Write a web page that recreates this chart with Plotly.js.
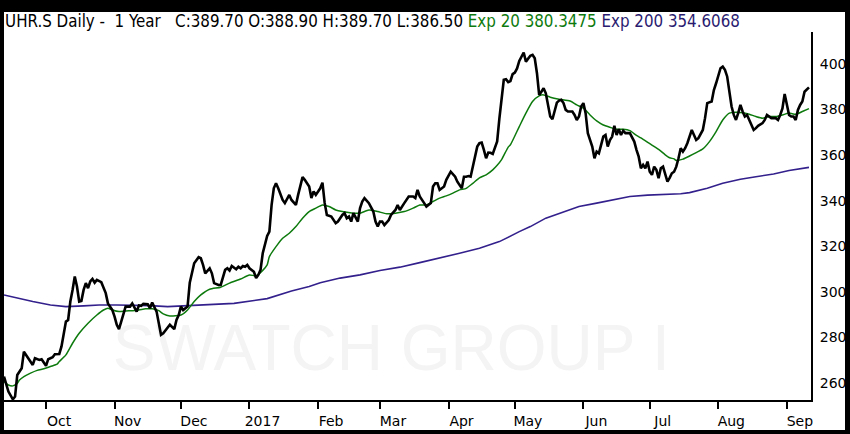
<!DOCTYPE html>
<html><head><meta charset="utf-8">
<script src="https://cdn.plot.ly/plotly-3.0.1.min.js"></script>
<style>
html,body{margin:0;padding:0;background:#fff;width:850px;height:434px;overflow:hidden}
#chart{position:absolute;left:0;top:0;width:850px;height:434px;background:#fff}
#frame{position:absolute;left:0;top:0;width:850px;height:434px;box-sizing:border-box;border-style:solid;border-color:#000;border-width:12px 5px 4px 4px;pointer-events:none;z-index:10}
</style></head><body><div id="chart"></div><div id="frame"></div>
<script>
const priceDates = ['2016-09-12','2016-09-14','2016-09-16','2016-09-17','2016-09-18','2016-09-19','2016-09-20','2016-09-21','2016-09-22','2016-09-24','2016-09-25','2016-09-26','2016-09-28','2016-09-29',
'2016-10-01','2016-10-02','2016-10-04','2016-10-05','2016-10-07','2016-10-08','2016-10-09','2016-10-10','2016-10-11','2016-10-12','2016-10-13','2016-10-14','2016-10-15','2016-10-16','2016-10-17','2016-10-18','2016-10-19','2016-10-20','2016-10-21','2016-10-22','2016-10-23','2016-10-24','2016-10-26','2016-10-27','2016-10-28','2016-10-29','2016-10-31',
'2016-11-01','2016-11-02','2016-11-03','2016-11-04','2016-11-05','2016-11-06','2016-11-08','2016-11-09','2016-11-11','2016-11-12','2016-11-13','2016-11-14','2016-11-16','2016-11-17','2016-11-18','2016-11-19','2016-11-20','2016-11-21','2016-11-22','2016-11-23','2016-11-25','2016-11-26','2016-11-28','2016-11-29','2016-11-30',
'2016-12-01','2016-12-02','2016-12-04','2016-12-05','2016-12-06','2016-12-07','2016-12-09','2016-12-10','2016-12-11','2016-12-12','2016-12-14','2016-12-15','2016-12-16','2016-12-18','2016-12-19','2016-12-21','2016-12-22','2016-12-23','2016-12-24','2016-12-26','2016-12-27','2016-12-28','2016-12-29','2016-12-30','2016-12-31',
'2017-01-01','2017-01-03','2017-01-04','2017-01-05','2017-01-06','2017-01-07','2017-01-09','2017-01-10','2017-01-11','2017-01-12','2017-01-13','2017-01-14','2017-01-15','2017-01-16','2017-01-17','2017-01-19','2017-01-20','2017-01-22','2017-01-23','2017-01-24','2017-01-25','2017-01-26','2017-01-28','2017-01-29','2017-01-30','2017-01-31',
'2017-02-02','2017-02-03','2017-02-04','2017-02-05','2017-02-07','2017-02-09','2017-02-10','2017-02-12','2017-02-13','2017-02-14','2017-02-15','2017-02-16','2017-02-17','2017-02-19','2017-02-20','2017-02-21','2017-02-22','2017-02-24','2017-02-26','2017-02-27','2017-02-28',
'2017-03-01','2017-03-02','2017-03-03','2017-03-05','2017-03-06','2017-03-08','2017-03-09','2017-03-10','2017-03-12','2017-03-13','2017-03-14','2017-03-16','2017-03-17','2017-03-18','2017-03-19','2017-03-21','2017-03-22','2017-03-24','2017-03-25','2017-03-26','2017-03-27','2017-03-28','2017-03-30','2017-03-31',
'2017-04-01','2017-04-02','2017-04-04','2017-04-05','2017-04-07','2017-04-08','2017-04-09','2017-04-10','2017-04-11','2017-04-12','2017-04-13','2017-04-14','2017-04-15','2017-04-16','2017-04-17','2017-04-18','2017-04-19','2017-04-20','2017-04-21','2017-04-23','2017-04-24','2017-04-25','2017-04-26','2017-04-27','2017-04-28','2017-04-29','2017-04-30',
'2017-05-01','2017-05-02','2017-05-03','2017-05-05','2017-05-06','2017-05-07','2017-05-08','2017-05-09','2017-05-10','2017-05-11','2017-05-12','2017-05-13','2017-05-14','2017-05-15','2017-05-16','2017-05-17','2017-05-18','2017-05-19','2017-05-20','2017-05-21','2017-05-22','2017-05-23','2017-05-24','2017-05-25','2017-05-27','2017-05-28','2017-05-29','2017-05-30','2017-05-31',
'2017-06-01','2017-06-02','2017-06-03','2017-06-04','2017-06-05','2017-06-06','2017-06-07','2017-06-08','2017-06-09','2017-06-10','2017-06-11','2017-06-12','2017-06-13','2017-06-14','2017-06-15','2017-06-16','2017-06-17','2017-06-18','2017-06-19','2017-06-20','2017-06-22','2017-06-23','2017-06-24','2017-06-25','2017-06-26','2017-06-27','2017-06-28','2017-06-29','2017-06-30',
'2017-07-01','2017-07-02','2017-07-03','2017-07-04','2017-07-05','2017-07-06','2017-07-07','2017-07-08','2017-07-09','2017-07-10','2017-07-11','2017-07-12','2017-07-13','2017-07-14','2017-07-15','2017-07-16','2017-07-17','2017-07-18','2017-07-19','2017-07-20','2017-07-21','2017-07-22','2017-07-23','2017-07-24','2017-07-25','2017-07-26','2017-07-27','2017-07-29','2017-07-30','2017-07-31',
'2017-08-01','2017-08-02','2017-08-03','2017-08-04','2017-08-05','2017-08-06','2017-08-07','2017-08-08','2017-08-09','2017-08-10','2017-08-11','2017-08-12','2017-08-13','2017-08-14','2017-08-15','2017-08-16','2017-08-17','2017-08-18','2017-08-19','2017-08-21','2017-08-22','2017-08-23','2017-08-24','2017-08-25','2017-08-27','2017-08-28','2017-08-29','2017-08-30','2017-08-31',
'2017-09-01','2017-09-02','2017-09-03','2017-09-04','2017-09-05','2017-09-06','2017-09-07','2017-09-08','2017-09-09','2017-09-11'];
const priceValues = [262.8,256.2,252.8,254.0,263.5,265.0,266.4,273.7,272.3,269.4,267.9,270.8,270.1,270.4,
267.5,270.4,271.3,272.6,272.7,276.0,282.0,286.9,287.6,295.7,300.8,306.7,302.3,295.7,296.0,300.8,303.8,301.6,304.5,305.6,304.0,305.2,304.2,301.6,299.4,294.9,292.0,
289.1,285.5,283.6,286.9,291.3,293.5,293.5,294.9,291.3,294.0,293.8,294.7,294.5,292.8,295.3,293.5,291.3,286.2,281.1,281.8,284.0,285.5,283.6,287.6,289.8,
293.5,292.0,293.5,304.0,308.8,312.5,315.2,314.7,311.8,308.1,310.3,308.1,303.8,303.0,303.0,309.6,310.3,309.3,311.3,309.9,311.0,310.3,311.3,311.0,311.8,
310.3,308.8,306.0,307.4,309.6,316.9,324.5,326.4,338.0,345.4,347.6,345.4,342.5,340.3,338.9,342.5,340.3,338.1,342.5,346.9,350.3,349.1,346.2,341.1,344.0,342.5,
345.4,347.9,339.0,333.7,333.0,330.1,330.8,333.7,334.5,332.3,333.0,330.8,334.5,330.8,336.7,339.6,341.1,338.9,335.2,330.8,328.6,
330.8,330.8,329.3,331.5,333.7,335.9,338.1,335.9,338.9,340.3,341.8,341.8,341.1,344.7,341.8,338.9,337.4,338.9,346.2,347.6,347.6,344.7,346.2,349.1,
351.3,352.7,350.5,348.3,345.4,350.5,350.5,350.8,350.5,354.9,360.8,363.7,365.2,365.5,362.3,358.6,361.1,361.0,360.5,366.0,376.0,384.2,393.0,393.3,392.0,392.5,395.5,
396.2,398.0,401.3,405.0,401.0,402.5,403.6,404.0,402.5,395.9,386.4,387.8,389.3,387.1,381.3,376.9,375.7,379.8,383.0,383.9,384.2,382.8,379.8,379.1,379.1,377.6,375.4,376.9,381.3,
382.8,378.4,369.6,366.6,363.7,358.6,361.5,360.8,364.5,368.1,368.8,363.7,366.6,368.1,372.8,368.8,371.3,368.8,370.7,369.6,369.6,367.4,365.9,362.3,359.3,354.2,355.7,354.2,357.1,
352.7,351.3,354.9,353.5,349.8,354.2,354.9,351.3,348.3,350.0,352.0,352.7,354.9,358.6,363.0,361.5,363.0,365.2,368.1,371.0,368.8,366.6,367.4,369.6,371.0,376.2,382.8,383.5,388.5,391.5,
395.2,398.1,398.8,397.4,394.5,387.8,381.3,377.6,375.4,378.4,382.0,379.1,376.9,377.6,375.4,373.2,371.0,371.8,372.8,374.0,375.4,377.6,376.9,376.2,376.2,375.4,377.6,380.5,386.8,
382.8,377.6,376.9,376.9,375.4,379.8,382.0,383.5,387.8,389.7];

const ema20Dates = ['2016-09-12','2016-09-14','2016-09-16','2016-09-18','2016-09-19','2016-09-21','2016-09-24','2016-09-27','2016-09-30','2016-10-03','2016-10-06','2016-10-07','2016-10-10','2016-10-13','2016-10-16','2016-10-20','2016-10-24','2016-10-27','2016-10-29','2016-10-31',
'2016-11-03','2016-11-06','2016-11-09','2016-11-12','2016-11-15','2016-11-18','2016-11-21','2016-11-23','2016-11-26','2016-12-01','2016-12-04','2016-12-07','2016-12-10','2016-12-14','2016-12-19','2016-12-23','2016-12-28',
'2017-01-01','2017-01-04','2017-01-07','2017-01-09','2017-01-10','2017-01-13','2017-01-16','2017-01-19','2017-01-22','2017-01-25','2017-01-28','2017-01-31','2017-02-03','2017-02-06','2017-02-09','2017-02-12','2017-02-17','2017-02-20','2017-02-24','2017-02-28',
'2017-03-04','2017-03-08','2017-03-12','2017-03-16','2017-03-19','2017-03-22','2017-03-25','2017-03-28','2017-03-31','2017-04-03','2017-04-06','2017-04-09','2017-04-12','2017-04-15','2017-04-18','2017-04-21','2017-04-23','2017-04-25','2017-04-28','2017-04-29',
'2017-05-03','2017-05-06','2017-05-09','2017-05-12','2017-05-14','2017-05-17','2017-05-21','2017-05-26','2017-05-29','2017-06-01','2017-06-04','2017-06-07','2017-06-10','2017-06-13','2017-06-16','2017-06-19','2017-06-22','2017-06-25','2017-06-27',
'2017-07-01','2017-07-05','2017-07-08','2017-07-10','2017-07-12','2017-07-13','2017-07-16','2017-07-19','2017-07-22','2017-07-25','2017-07-28','2017-07-31','2017-08-03','2017-08-06','2017-08-09','2017-08-12','2017-08-15','2017-08-18','2017-08-21','2017-08-24','2017-08-27','2017-08-30',
'2017-09-02','2017-09-05','2017-09-08','2017-09-11'];
const ema20Values = [260.6,259.1,258.7,259.8,261.3,262.8,264.3,265.5,266.2,267.2,268.2,269.4,272.3,277.4,281.8,286.2,289.8,292.0,292.8,292.0,
291.3,291.6,291.7,292.0,292.5,292.5,291.7,290.3,289.4,289.8,292.0,295.7,298.6,301.1,302.0,303.8,305.6,
307.4,307.0,309.4,311.8,315.4,319.8,323.5,325.7,328.6,332.3,335.2,336.7,338.1,337.4,335.9,335.2,334.5,334.5,335.9,335.2,
334.2,334.5,335.2,336.7,338.1,338.1,339.6,341.1,342.1,343.3,344.7,345.4,347.6,350.0,351.3,353.5,355.5,358.0,363.5,364.5,
372.5,378.4,383.5,386.0,386.4,385.4,384.5,383.7,382.0,380.6,377.6,375.0,373.2,372.2,371.3,371.3,370.7,368.6,367.5,
365.0,362.5,360.1,358.8,358.3,357.6,358.2,359.6,361.1,362.7,365.9,370.3,375.4,378.4,378.8,378.6,377.9,376.9,376.2,376.9,376.9,377.6,
378.4,377.9,379.1,380.35];

const ema200Dates = ['2016-09-12','2016-09-18','2016-09-25','2016-10-03','2016-10-10','2016-10-18','2016-10-25','2016-11-02','2016-11-09','2016-11-17','2016-11-25','2016-12-10','2016-12-25',
'2017-01-09','2017-01-20','2017-01-28','2017-02-02','2017-02-11','2017-02-20','2017-03-01','2017-03-10','2017-03-19','2017-03-28','2017-04-06','2017-04-15','2017-04-24','2017-05-03','2017-05-08','2017-05-15','2017-05-23','2017-05-30',
'2017-06-07','2017-06-14','2017-06-22','2017-06-30','2017-07-07','2017-07-15','2017-07-19','2017-07-27','2017-08-03','2017-08-11','2017-08-18','2017-08-26','2017-09-02','2017-09-11'];
const ema200Values = [298.6,297.2,295.7,294.2,293.5,293.8,294.2,294.2,294.1,293.9,293.5,294.2,294.9,
297.0,300.3,302.3,304.0,306.0,307.4,309.3,310.8,312.8,314.7,316.9,319.1,322.0,326.4,328.6,332.3,335.2,337.4,
338.9,340.3,341.8,342.4,342.7,343.0,343.5,345.4,347.6,349.4,350.5,351.7,353.2,354.6];

const monthTickDates = ['2016-10-01','2016-11-01','2016-12-01','2017-01-01','2017-02-01','2017-03-01','2017-04-01','2017-05-01','2017-06-01','2017-07-01','2017-08-01','2017-09-01'];
const monthTickLabels = ['Oct','Nov','Dec','2017','Feb','Mar','Apr','May','Jun','Jul','Aug','Sep'];
const priceTickValues = [260,280,300,320,340,360,380,400];

const symbolLabel = 'UHR.S Daily -\u00A0\u00A01 Year\u00A0\u00A0\u00A0';
const ohlcLabel = 'C:389.70 O:388.90 H:389.70 L:386.50';
const ema20Label = 'Exp 20 380.3475';
const ema200Label = 'Exp 200 354.6068';
const watermarkText = 'SWATCH GROUP I';

const GREEN = '#0d7a0d';
const PURPLE = '#33208c';

const traces = [
  {x: ema200Dates, y: ema200Values, type: 'scatter', mode: 'lines', line: {color: PURPLE, width: 1.6}, hoverinfo: 'skip'},
  {x: ema20Dates, y: ema20Values, type: 'scatter', mode: 'lines', line: {color: GREEN, width: 1.5, shape: 'spline', smoothing: 0.6}, hoverinfo: 'skip'},
  {x: priceDates, y: priceValues, type: 'scatter', mode: 'lines', line: {color: '#000', width: 2.6}, hoverinfo: 'skip'}
];

const layout = {
  width: 850, height: 434,
  margin: {l: 4, r: 39, t: 32, b: 34, pad: 0},
  paper_bgcolor: '#fff', plot_bgcolor: '#fff',
  showlegend: false,
  font: {family: 'DejaVu Sans, Verdana, sans-serif', size: 14, color: '#000'},
  title: {
    text: symbolLabel + ohlcLabel + ' <span style="color:' + GREEN + '">' + ema20Label + '</span> <span style="color:#2a1b70">' + ema200Label + '</span>',
    font: {family: 'DejaVu Sans Condensed, Noto Sans, sans-serif', size: 16.8, color: '#000'},
    x: 0.006, xref: 'container', xanchor: 'left',
    y: 0.951, yref: 'container', yanchor: 'middle', pad: {t: 0, b: 0, l: 0, r: 0}
  },
  xaxis: {
    type: 'date',
    range: ['2016-09-12 00:00', '2017-09-11 22:00'],
    tickmode: 'array', tickvals: monthTickDates, ticktext: monthTickLabels,
    ticks: 'outside', ticklen: 7, tickwidth: 2, tickcolor: '#000',
    ticklabelshift: 13,
    showline: true, linecolor: '#000', linewidth: 2,
    showgrid: false, zeroline: false,
    tickfont: {family: 'DejaVu Sans, Verdana, sans-serif', size: 14, color: '#000'},
    fixedrange: true
  },
  yaxis: {
    side: 'right',
    range: [252.5, 414],
    tickmode: 'array', tickvals: priceTickValues,
    ticks: '', showline: true, linecolor: '#000', linewidth: 2,
    showgrid: false, zeroline: false,
    ticklabelstandoff: 4,
    tickfont: {family: 'DejaVu Sans, Verdana, sans-serif', size: 14, color: '#000'},
    fixedrange: true
  },
  shapes: [{
    type: 'rect', layer: 'below', xref: 'paper', yref: 'paper',
    x0: 0.03, x1: 0.93, y0: 0.008, y1: 0.308,
    line: {width: 0}, fillcolor: 'rgba(0,0,0,0)',
    label: {text: watermarkText, textposition: 'middle center',
      font: {family: 'Liberation Sans, Arial, sans-serif', size: 64, color: '#f4f4f4'}}
  }]
};

Plotly.newPlot('chart', traces, layout, {staticPlot: true, displayModeBar: false});
</script></body></html>
